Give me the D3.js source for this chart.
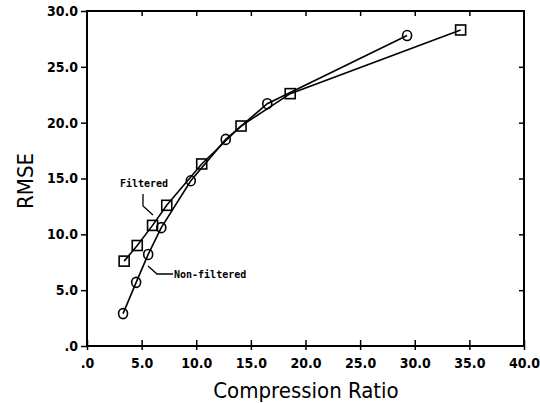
<!DOCTYPE html>
<html>
<head>
<style>
  body {
    margin: 0;
    background-color: #fff;
  }

  .tick-label {
    font-family: "DejaVu Sans Condensed", "DejaVu Sans", sans-serif;
    font-stretch: condensed;
    font-size: 14px;
    font-weight: bold;
    fill: #000;
  }

  .axis-title {
    font-family: "DejaVu Sans Condensed", "DejaVu Sans", sans-serif;
    font-stretch: condensed;
    font-size: 22px;
    fill: #000;
  }

  .note {
    font-family: "DejaVu Sans Mono", monospace;
    font-size: 10px;
    font-weight: bold;
    fill: #000;
  }
</style>
  <script src="https://d3js.org/d3.v7.min.js"></script>
</head>
<body>
<script>
// RMSE vs compression ratio, filtered and non-filtered
const xTicks = [0, 5, 10, 15, 20, 25, 30, 35, 40];
const yTicks = [0, 5, 10, 15, 20, 25, 30];

const filteredX = [3.4, 4.6, 6.0, 7.3, 10.5, 14.1, 18.6, 34.2];
const filteredY = [7.6, 9.0, 10.8, 12.6, 16.3, 19.7, 22.6, 28.3];

const nonFilteredX = [3.3, 4.5, 5.6, 6.8, 9.5, 12.7, 16.5, 29.3];
const nonFilteredY = [2.9, 5.7, 8.2, 10.6, 14.8, 18.5, 21.7, 27.8];

const width = 540;
const height = 404;
const margin = { top: 11, right: 16, bottom: 58, left: 87 };

const svg = d3.select('body')
  .append('svg')
  .attr('width', width)
  .attr('height', height);

const x = d3.scaleLinear()
  .domain([0, 40])
  .range([margin.left, width - margin.right]);

const y = d3.scaleLinear()
  .domain([0, 30])
  .range([height - margin.bottom, margin.top]);

const fmt = (v) => v === 0 ? '.0' : v.toFixed(1);

// frame
svg.append('rect')
  .attr('x', x(0))
  .attr('y', y(30))
  .attr('width', x(40) - x(0))
  .attr('height', y(0) - y(30))
  .attr('fill', 'none')
  .attr('stroke', '#000')
  .attr('stroke-width', 2);

// bottom axis, ticks cross the line
const bottomAxis = svg.append('g')
  .attr('transform', `translate(0,${y(0)})`)
  .call(d3.axisBottom(x).tickValues(xTicks).tickFormat(fmt).tickSize(4).tickPadding(8));
bottomAxis.select('.domain').remove();
bottomAxis.selectAll('.tick line').attr('y1', -6).attr('stroke-width', 1.5);
bottomAxis.selectAll('.tick text').attr('class', 'tick-label');
bottomAxis.attr('font-size', null).attr('font-family', null);

// left axis, ticks outside
const leftAxis = svg.append('g')
  .attr('transform', `translate(${x(0)},0)`)
  .call(d3.axisLeft(y).tickValues(yTicks).tickFormat(fmt).tickSize(6).tickPadding(3));
leftAxis.select('.domain').remove();
leftAxis.selectAll('.tick line').attr('stroke-width', 1.5);
leftAxis.selectAll('.tick text').attr('class', 'tick-label');
leftAxis.attr('font-size', null).attr('font-family', null);

// top and right: inward ticks only
const topAxis = svg.append('g')
  .attr('transform', `translate(0,${y(30)})`)
  .call(d3.axisTop(x).tickValues(xTicks.slice(1, -1)).tickFormat('').tickSize(-5));
topAxis.select('.domain').remove();
topAxis.selectAll('.tick line').attr('stroke-width', 1.5);

const rightAxis = svg.append('g')
  .attr('transform', `translate(${x(40)},0)`)
  .call(d3.axisRight(y).tickValues(yTicks.slice(1, -1)).tickFormat('').tickSize(-5));
rightAxis.select('.domain').remove();
rightAxis.selectAll('.tick line').attr('stroke-width', 1.5);

// axis titles
svg.append('text')
  .attr('class', 'axis-title')
  .attr('x', 306)
  .attr('y', 398)
  .attr('text-anchor', 'middle')
  .text('Compression Ratio');

svg.append('text')
  .attr('class', 'axis-title')
  .attr('transform', 'translate(33,181) rotate(-90)')
  .attr('text-anchor', 'middle')
  .text('RMSE');

const line = d3.line()
  .x(d => x(d[0]))
  .y(d => y(d[1]));

const filtered = d3.zip(filteredX, filteredY);
const nonFiltered = d3.zip(nonFilteredX, nonFilteredY);

[filtered, nonFiltered].forEach(series => {
  svg.append('path')
    .datum(series)
    .attr('d', line)
    .attr('fill', 'none')
    .attr('stroke', '#000')
    .attr('stroke-width', 1.6);
});

svg.selectAll('.sq')
  .data(filtered)
  .join('rect')
  .attr('class', 'sq')
  .attr('x', d => x(d[0]) - 5)
  .attr('y', d => y(d[1]) - 5)
  .attr('width', 10)
  .attr('height', 10)
  .attr('fill', 'none')
  .attr('stroke', '#000')
  .attr('stroke-width', 1.6);

svg.selectAll('.circ')
  .data(nonFiltered)
  .join('ellipse')
  .attr('class', 'circ')
  .attr('cx', d => x(d[0]))
  .attr('cy', d => y(d[1]))
  .attr('rx', 4.5)
  .attr('ry', 5)
  .attr('fill', 'none')
  .attr('stroke', '#000')
  .attr('stroke-width', 1.6);

// annotations with leader lines
svg.append('text')
  .attr('class', 'note')
  .attr('x', 144)
  .attr('y', 187)
  .attr('text-anchor', 'middle')
  .text('Filtered');

svg.append('path')
  .attr('d', 'M143,194 L143,206 L153,215')
  .attr('fill', 'none')
  .attr('stroke', '#000')
  .attr('stroke-width', 1.3);

svg.append('text')
  .attr('class', 'note')
  .attr('x', 174)
  .attr('y', 278)
  .text('Non-filtered');

svg.append('path')
  .attr('d', 'M148,266 L157,274 L173,274')
  .attr('fill', 'none')
  .attr('stroke', '#000')
  .attr('stroke-width', 1.3);
</script>
</body>
</html>
